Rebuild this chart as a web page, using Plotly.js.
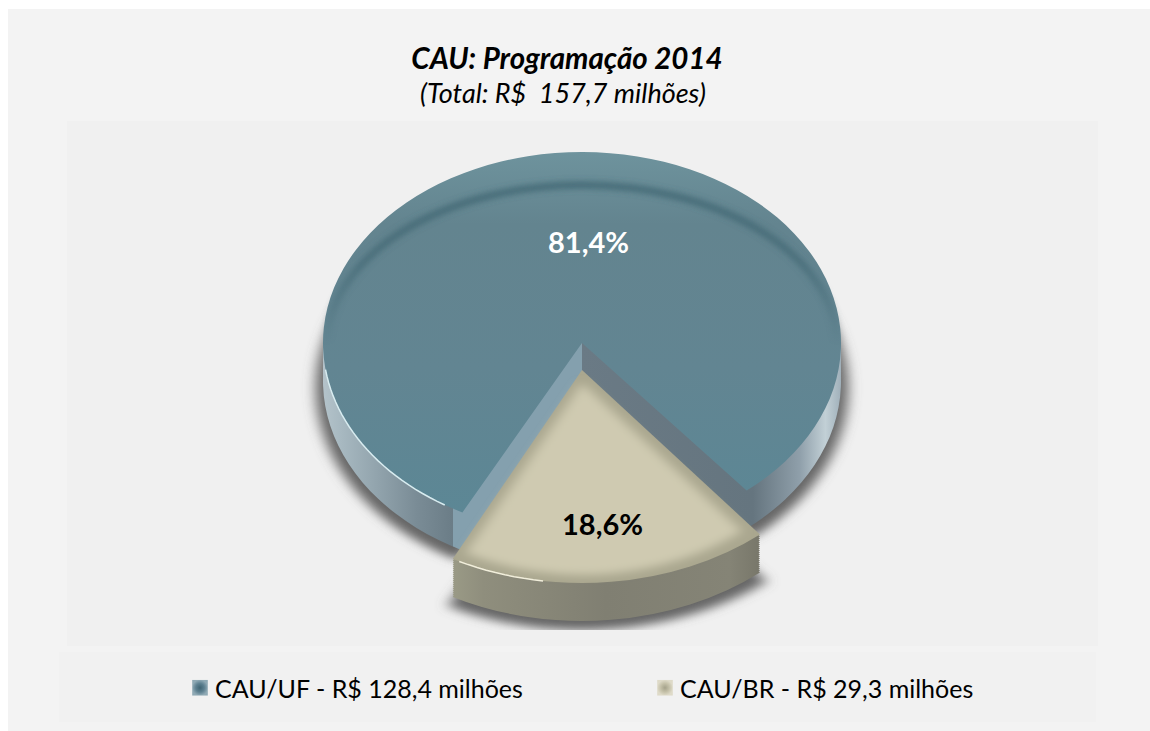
<!DOCTYPE html>
<html><head><meta charset="utf-8">
<script src="https://cdn.plot.ly/plotly-3.0.1.min.js"></script>
<style>html,body{margin:0;padding:0;background:#fff}#chart{width:1150px;height:731px}</style>
</head><body><div id="chart"></div>
<script>
// ---- data ----
const categories = ['CAU/UF - R$ 128,4 milhões', 'CAU/BR - R$ 29,3 milhões'];
const shares = [81.4, 18.6];
const chartTitle = 'CAU: Programação 2014';
const chartSubtitle = '(Total: R$  157,7 milhões)';

// ---- geometry and style ----
const W = 1150, H = 731, CX = 582, CY = 343, R = 259;
const TILT = 191 / 259, DEPTH = 38;
const NONE = 'rgba(0,0,0,0)';
const FONT = 'Lato, Carlito, sans-serif';
const px = v => v / W, py = v => 1 - v / H;
const fmt = v => v.toFixed(1).replace('.', ',') + '%';

function pie(colors, extra) {
  return Object.assign({
    type: 'pie', labels: categories, values: shares, sort: false, direction: 'clockwise',
    rotation: 207.5, textinfo: 'none', hoverinfo: 'skip', showlegend: false,
    domain: {x: [px(CX - R), px(CX + R)], y: [py(CY + R), py(CY - R)]},
    marker: {colors: colors, line: {width: 0}}
  }, extra || {});
}
const main = c => [c, NONE], wedge = c => [NONE, c];
const WX = 280 / 259, WY = 213 / 259, WCY = 370;
// layer list: colours, gradient id, transform, filter
const layers = [
  {c: main('#666'),  sx: 1.028, sy: TILT * 1.02, y: CY + DEPTH + 7, blur: 'b6', clip: true},
  {c: main('#7e95a2'), g: 'wallM', sx: 1, sy: TILT, y: CY + DEPTH},
  {c: main('#7e95a2'), g: 'wallM', sx: 1, sy: TILT, y: CY + DEPTH * 2 / 3},
  {c: main('#7e95a2'), g: 'wallM', sx: 1, sy: TILT, y: CY + DEPTH / 3},
  {c: main('#62858f'), g: 'topM',  sx: 1, sy: TILT, y: CY, legend: true},
  {c: wedge('#666'), sx: WX * 1.04, sy: WY, y: WCY + DEPTH + 9, blur: 'b6', clip: true}
];
for (let d = DEPTH; d > 0; d -= 2) layers.push({c: wedge('#85847a'), g: 'wallW', sx: WX, sy: WY, y: WCY + d});
layers.push({c: wedge('#aaa78f'), sx: WX, sy: WY, y: WCY, legend: true});
layers.push({c: wedge('#cfcab1'), sx: WX * 0.9, sy: WY * 0.9, y: WCY + 13, blur: 'b4'});
const data = layers.map(l => pie(l.c, {showlegend: !!l.legend}));

// rim highlights follow the top-face ellipses
function arc(cx, cy, rx, ry, a0, a1) {
  const pts = [];
  for (let a = a0; a <= a1 + 1e-6; a += 2) {
    const t = a * Math.PI / 180;
    pts.push(px(cx + rx * Math.sin(t)).toFixed(5) + ',' + py(cy - ry * Math.cos(t)).toFixed(5));
  }
  return 'M' + pts.join('L');
}
const rect = (x0, y0, x1, y1, c) => ({type: 'rect', xref: 'paper', yref: 'paper', layer: 'below',
  x0: px(x0), x1: px(x1), y0: py(y1), y1: py(y0), fillcolor: c, line: {width: 0}});
const note = (text, x, y, size, color) => ({text, x: px(x), y: py(y), xref: 'paper', yref: 'paper',
  xanchor: 'center', yanchor: 'middle', showarrow: false, font: {family: FONT, size, color}});

const layout = {
  width: W, height: H, margin: {l: 0, r: 0, t: 0, b: 0}, paper_bgcolor: '#fff',
  title: {text: '<b><i>' + chartTitle + '</i></b>', x: px(567), xanchor: 'center', y: py(59), yanchor: 'middle',
    font: {family: FONT, size: 29.5, color: '#000'}},
  legend: {orientation: 'h', x: px(175), y: py(688), yanchor: 'middle', xanchor: 'left', traceorder: 'normal',
    entrywidth: 420, entrywidthmode: 'pixels', itemwidth: 30,
    font: {family: FONT, size: 25, color: '#000'}, bgcolor: NONE},
  shapes: [
    rect(8, 9, 1150, 731, '#f3f3f3'),
    rect(67, 121, 1098, 646, '#f0f0f0'),
    rect(59, 652, 1096, 722, '#f1f1f1'),
    {type: 'circle', xref: 'paper', yref: 'paper', layer: 'above', x0: px(CX - 255), x1: px(CX + 255),
     y0: py(505), y1: py(185), fillcolor: NONE, line: {color: '#3c6470', width: 6}},
    {type: 'path', xref: 'paper', yref: 'paper', layer: 'above',
     path: arc(CX, CY, R, 191, 212, 262), fillcolor: NONE, line: {color: '#d8ecf0', width: 1.5}},
    {type: 'path', xref: 'paper', yref: 'paper', layer: 'above',
     path: arc(CX, WCY, 280, 213, 188, 206), fillcolor: NONE, line: {color: '#f1eedb', width: 1.5}}
  ],
  annotations: [
    note('<i>' + chartSubtitle + '</i>', 563, 93, 27, '#000'),
    note('<b>' + fmt(shares[0]) + '</b>', 588, 241, 29, '#fff'),
    note('<b>' + fmt(shares[1]) + '</b>', 602, 523, 29, '#000')
  ]
};

const defsMarkup = `
<linearGradient id="topM" x1="0" y1="0" x2="0" y2="1">
 <stop offset="0" stop-color="#6e939d"/><stop offset=".2" stop-color="#63848f"/>
 <stop offset=".6" stop-color="#628592"/><stop offset="1" stop-color="#5c8795"/></linearGradient>
<linearGradient id="wallM" x1="0" y1="0" x2="1" y2="0">
 <stop offset="0" stop-color="#b4c3ca"/><stop offset=".03" stop-color="#a9bac2"/>
 <stop offset=".1" stop-color="#93a5ae"/><stop offset=".18" stop-color="#7a8c96"/><stop offset=".25" stop-color="#6b7d87"/>
 <stop offset=".25" stop-color="#84a0ae"/><stop offset=".5" stop-color="#84a0ae"/>
 <stop offset=".5" stop-color="#6a7a85"/><stop offset=".83" stop-color="#65757f"/>
 <stop offset=".92" stop-color="#8f9faa"/><stop offset=".97" stop-color="#c2d0d6"/>
 <stop offset="1" stop-color="#a0b0ba"/></linearGradient>
<linearGradient id="wallW" x1="0" y1="0" x2="1" y2="0">
 <stop offset="0" stop-color="#9a9a86"/><stop offset=".1" stop-color="#8f8e7d"/>
 <stop offset=".5" stop-color="#807f72"/><stop offset=".9" stop-color="#858476"/>
 <stop offset="1" stop-color="#78776a"/></linearGradient>
<radialGradient id="swM"><stop offset="0" stop-color="#3f6472"/><stop offset=".55" stop-color="#5d8090"/><stop offset="1" stop-color="#8fa9b4"/></radialGradient>
<radialGradient id="swW"><stop offset="0" stop-color="#a5a28b"/><stop offset=".55" stop-color="#c4c0a8"/><stop offset="1" stop-color="#dedac8"/></radialGradient>
<linearGradient id="fade" x1="0" y1="0" x2="0" y2="1">
 <stop offset="0" stop-color="#fff"/><stop offset=".28" stop-color="#fff" stop-opacity=".75"/>
 <stop offset=".5" stop-color="#fff" stop-opacity="0"/></linearGradient>
<mask id="bevelMask" maskContentUnits="objectBoundingBox" x="-.1" y="-.1" width="1.2" height="1.2">
 <rect x="-.1" y="-.1" width="1.2" height="1.2" fill="url(#fade)"/></mask>
<filter id="b6" x="-20%" y="-20%" width="140%" height="140%"><feGaussianBlur stdDeviation="6"/></filter>
<filter id="b4" x="-20%" y="-20%" width="140%" height="140%"><feGaussianBlur stdDeviation="6"/></filter>
<filter id="b3" x="-10%" y="-10%" width="120%" height="120%"><feGaussianBlur stdDeviation="3"/></filter>
<clipPath id="panelClip"><rect x="0" y="0" width="${W}" height="630"/></clipPath>`;

Plotly.newPlot('chart', data, layout, {staticPlot: true, displayModeBar: false}).then(gd => {
  const svg = gd.querySelector('.main-svg');
  const defs = document.createElementNS('http://www.w3.org/2000/svg', 'defs');
  defs.innerHTML = defsMarkup;
  svg.insertBefore(defs, svg.firstChild);

  // Plotly pies are round: tilt each layer into the perspective of the original
  const groups = [...gd.querySelectorAll('.pielayer > .trace')];
  groups.forEach((g, i) => {
    const l = layers[i];
    g.setAttribute('transform',
      `translate(${CX},${l.y}) scale(${l.sx},${l.sy}) translate(${-CX},${-CY})`);
    if (l.blur) g.setAttribute('filter', `url(#${l.blur})`);
    if (l.g) g.querySelectorAll('path.surface').forEach(p => {
      if (p.style.fillOpacity !== '0') p.style.fill = `url(#${l.g})`;
    });
    if (l.clip) {
      const wrap = document.createElementNS('http://www.w3.org/2000/svg', 'g');
      wrap.setAttribute('clip-path', 'url(#panelClip)');
      g.parentNode.insertBefore(wrap, g);
      wrap.appendChild(g);
    }
  });
  const bevel = gd.querySelector('.layer-above .shapelayer path');
  if (bevel) { bevel.setAttribute('filter', 'url(#b3)'); bevel.setAttribute('mask', 'url(#bevelMask)'); }
  gd.querySelectorAll('.legend .legendpoints path').forEach((p, i) => {
    p.style.fill = `url(#${i ? 'swW' : 'swM'})`; p.style.fillOpacity = 1;
    p.setAttribute('transform', (p.getAttribute('transform') || '') + ' translate(5,0) scale(1.3)');
  });
});
</script></body></html>
